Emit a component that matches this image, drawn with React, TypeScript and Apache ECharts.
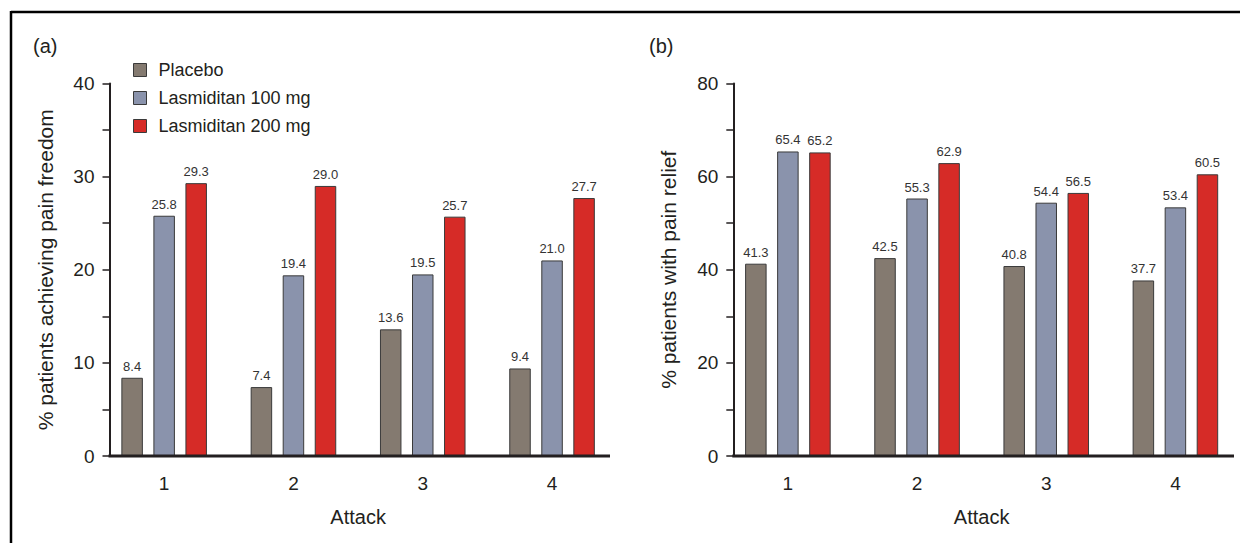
import React, { useEffect, useRef } from "react";
import * as echarts from "echarts";

const categories = ["1", "2", "3", "4"];
const seriesNames = ["Placebo", "Lasmiditan 100 mg", "Lasmiditan 200 mg"];
const seriesColors = ["#847a70", "#8a93ac", "#d62b27"];

const freedomPlacebo = [8.4, 7.4, 13.6, 9.4];
const freedom100 = [25.8, 19.4, 19.5, 21.0];
const freedom200 = [29.3, 29.0, 25.7, 27.7];

const reliefPlacebo = [41.3, 42.5, 40.8, 37.7];
const relief100 = [65.4, 55.3, 54.4, 53.4];
const relief200 = [65.2, 62.9, 56.5, 60.5];

const FONT = "'Liberation Sans', Arial, Helvetica, sans-serif";
const INK = "#231f20";

export default function App() {
  const ref = useRef<HTMLDivElement>(null);

  useEffect(() => {
    if (!ref.current) return;
    const chart = echarts.init(ref.current, null, { renderer: "svg" });

    const gridTop = 83.5;
    const gridH = 372.5;
    const gridW = 517.2;
    const axisA = 109.5;
    const axisB = 733.3;
    const baseY = gridTop + gridH;

    const makeBars = (vals: number[][], idx: number) =>
      vals.map((data, i) => ({
        type: "bar",
        name: seriesNames[i],
        xAxisIndex: idx,
        yAxisIndex: idx,
        data,
        barWidth: 21.5,
        barGap: "49%",
        itemStyle: { color: seriesColors[i], borderColor: "#3a3a3a", borderWidth: 1 },
        label: {
          show: true,
          position: "top",
          distance: 5,
          fontSize: 13,
          color: "#333",
          fontFamily: FONT,
          formatter: (p: any) => Number(p.value).toFixed(1),
        },
      }));

    const yAxisBase = (max: number, interval: number, labelEvery: number, name: string) => ({
      type: "value",
      min: 0,
      max,
      interval,
      offset: -10,
      name,
      nameLocation: "middle",
      nameGap: 54,
      nameTextStyle: { fontSize: 21, color: INK, fontFamily: FONT },
      axisLine: { show: true, lineStyle: { color: INK, width: 2 } },
      axisTick: { show: true, length: 7, lineStyle: { color: INK, width: 1.5 } },
      splitLine: { show: false },
      axisLabel: {
        fontSize: 19,
        color: INK,
        margin: 15,
        fontFamily: FONT,
        formatter: (v: number) => (v % labelEvery === 0 ? String(v) : ""),
      },
    });

    const xAxisBase = (idx: number) => ({
      type: "category",
      gridIndex: idx,
      data: categories,
      name: "Attack",
      nameLocation: "middle",
      nameGap: 51,
      nameTextStyle: { fontSize: 20, color: INK, fontFamily: FONT },
      axisLine: { show: false },
      axisTick: { show: false },
      axisLabel: { fontSize: 19, color: INK, margin: 18, fontFamily: FONT },
    });

    chart.setOption({
      animation: false,
      textStyle: { fontFamily: FONT },
      grid: [
        { left: axisA - 10, top: gridTop, width: gridW, height: gridH },
        { left: axisB - 10, top: gridTop, width: gridW, height: gridH },
      ],
      legend: {
        data: seriesNames,
        orient: "vertical",
        left: 133,
        top: 61,
        padding: 0,
        itemWidth: 13,
        itemHeight: 13,
        itemGap: 10,
        icon: "rect",
        selectedMode: false,
        itemStyle: { borderColor: "#3a3a3a", borderWidth: 1 },
        textStyle: { fontSize: 18, lineHeight: 18, color: INK, padding: [0, 0, 0, 7], fontFamily: FONT },
      },
      xAxis: [xAxisBase(0), xAxisBase(1)],
      yAxis: [
        { ...yAxisBase(40, 5, 10, "% patients achieving pain freedom"), gridIndex: 0 },
        { ...yAxisBase(80, 10, 20, "% patients with pain relief"), gridIndex: 1 },
      ],
      series: [
        ...makeBars([freedomPlacebo, freedom100, freedom200], 0),
        ...makeBars([reliefPlacebo, relief100, relief200], 1),
      ],
      graphic: [
        { type: "line", z: 100, shape: { x1: 11, y1: 12, x2: 1240, y2: 12 }, style: { stroke: "#000", lineWidth: 2.5 } },
        { type: "line", z: 100, shape: { x1: 11, y1: 11, x2: 11, y2: 543 }, style: { stroke: "#000", lineWidth: 2.5 } },
        { type: "line", z: 100, shape: { x1: axisA - 1, y1: baseY, x2: 610, y2: baseY }, style: { stroke: INK, lineWidth: 3 } },
        { type: "line", z: 100, shape: { x1: axisB - 1, y1: baseY, x2: 1234, y2: baseY }, style: { stroke: INK, lineWidth: 3 } },
        { type: "text", left: 33, top: 36, style: { text: "(a)", fontSize: 20, fill: INK, fontFamily: FONT } },
        { type: "text", left: 649, top: 36, style: { text: "(b)", fontSize: 20, fill: INK, fontFamily: FONT } },
      ],
    });

    return () => chart.dispose();
  }, []);

  return (
    <div
      ref={ref}
      style={{ position: "fixed", left: 0, top: 0, width: 1240, height: 543, background: "#fff" }}
    />
  );
}
